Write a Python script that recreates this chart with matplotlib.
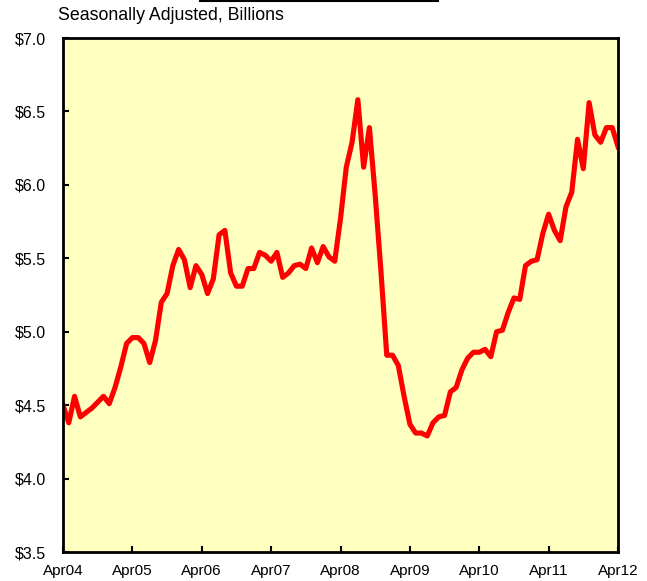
import numpy as np
import matplotlib
matplotlib.use("Agg")
import matplotlib.pyplot as plt
from matplotlib.lines import Line2D

plt.rcParams['font.family'] = ['Liberation Sans', 'DejaVu Sans']

values = [4.50, 4.38, 4.56, 4.42, 4.45, 4.48, 4.52, 4.56, 4.51, 4.62,
          4.76, 4.92, 4.96, 4.96, 4.92, 4.79, 4.94, 5.20, 5.26, 5.45,
          5.56, 5.49, 5.30, 5.45, 5.39, 5.26, 5.36, 5.66, 5.69, 5.40,
          5.31, 5.31, 5.43, 5.43, 5.54, 5.52, 5.48, 5.54, 5.37, 5.40,
          5.45, 5.46, 5.43, 5.57, 5.47, 5.58, 5.51, 5.48, 5.77, 6.12,
          6.29, 6.58, 6.12, 6.39, 5.93, 5.41, 4.84, 4.84, 4.77, 4.56,
          4.37, 4.31, 4.31, 4.29, 4.38, 4.42, 4.43, 4.59, 4.62, 4.74,
          4.82, 4.86, 4.86, 4.88, 4.83, 5.00, 5.01, 5.13, 5.23, 5.22,
          5.45, 5.48, 5.49, 5.67, 5.80, 5.69, 5.62, 5.85, 5.95, 6.31,
          6.11, 6.56, 6.34, 6.29, 6.39, 6.39, 6.26]
x_labels = ['Apr04', 'Apr05', 'Apr06', 'Apr07', 'Apr08', 'Apr09', 'Apr10', 'Apr11', 'Apr12']
y_ticks = [3.5, 4.0, 4.5, 5.0, 5.5, 6.0, 6.5, 7.0]
subtitle = 'Seasonally Adjusted, Billions'

months = np.arange(len(values))

fig = plt.figure(figsize=(6.47, 5.81), dpi=100)
fig.patch.set_facecolor('white')
ax = fig.add_axes([63/647, 1-552/581, 555/647, 514/581])
ax.set_facecolor('#FFFFC0')
ax.plot(months, values, color='#FF0000', linewidth=3.7, solid_joinstyle='round')

ax.set_xlim(0, 96)
ax.set_ylim(3.5, 7.0)
ax.set_xticks(np.arange(0, 97, 12))
ax.set_xticklabels(x_labels, fontsize=11)
ax.set_yticks(y_ticks)
ax.set_yticklabels(['$%.1f' % v for v in y_ticks], fontsize=11.5)
ax.tick_params(axis='x', direction='in', length=4, width=1.5, pad=9)
ax.tick_params(axis='y', direction='in', length=4, width=1.5, pad=12.5)
for s in ax.spines.values():
    s.set_linewidth(2.0)
    s.set_color('black')

fig.text(58/647, 1-16/581, subtitle, fontsize=12.8, ha='left', va='center')
fig.add_artist(Line2D([200/647, 438/647], [1-1/581, 1-1/581], color='black', linewidth=1.5,
                      transform=fig.transFigure))

fig.savefig('out.png', dpi=100)
